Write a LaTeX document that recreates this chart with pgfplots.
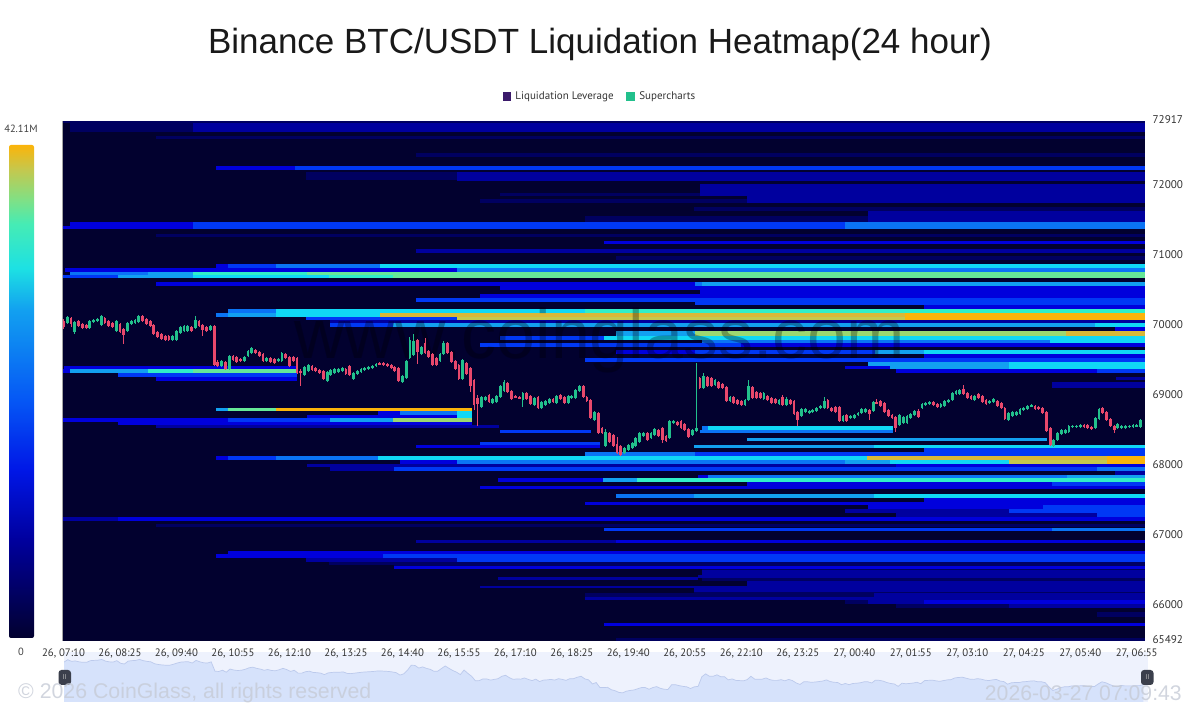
\documentclass[border=0pt]{standalone}
\usepackage{fontspec}
\setmainfont{Liberation Sans}
\newfontfamily\din{PT Sans}
\usepackage{pgfplots}
\usepackage{pgfplotstable}
\pgfplotsset{compat=1.18}
\definecolor{c0}{HTML}{02012F}
\definecolor{c1}{HTML}{000060}
\definecolor{c2}{HTML}{00009E}
\definecolor{c3}{HTML}{0000DC}
\definecolor{c4}{HTML}{0038F5}
\definecolor{c5}{HTML}{0A74F5}
\definecolor{c6}{HTML}{12A0F0}
\definecolor{c7}{HTML}{10D8F5}
\definecolor{c8}{HTML}{30EEC8}
\definecolor{c9}{HTML}{66E898}
\definecolor{cg}{HTML}{9CD870}
\definecolor{cx}{HTML}{C4C84E}
\definecolor{co}{HTML}{D8B838}
\definecolor{cy}{HTML}{FBB40A}
\definecolor{up}{HTML}{22C08C}
\definecolor{dn}{HTML}{E8486C}
\definecolor{navbg}{HTML}{EEF2FD}
\definecolor{navfill}{HTML}{D6E2FB}
\definecolor{navline}{HTML}{BCCAEC}
\definecolor{handle}{HTML}{3B3F4C}
\definecolor{foot}{HTML}{C6CBD6}
\definecolor{legv}{HTML}{3B1A6B}
\pgfdeclareverticalshading{heat}{100bp}{
 color(0bp)=(c0); color(25bp)=(c0); color(35bp)=(c2); color(42bp)=(c3!60!c4); color(49bp)=(c4!50!c5);
 color(58.25bp)=(c6); color(62.5bp)=(c7!60!c8); color(67bp)=(c8!60!c9); color(69.5bp)=(c9!50!cg);
 color(72.5bp)=(cx); color(75bp)=(cy); color(100bp)=(cy)}
\newcommand\B[5]{\addplot[fill=#5,draw=none,forget plot] coordinates {(#1,#3)(#2,#3)(#2,#4)(#1,#4)};}
\pgfplotstableread{
t o h l c
0 70061 70090 69947 69976
5 70033 70133 70019 70118
10 70104 70118 69976 70019
15 69904 70061 69876 70047
20 70061 70076 69976 69990
25 70019 70033 69947 69961
30 70004 70019 69947 69961
35 69961 70076 69947 70061
40 70047 70090 70033 70076
45 70061 70104 70047 70090
50 70004 70147 69990 70133
55 70104 70118 70019 70033
60 70061 70076 69976 69990
65 70033 70047 69961 69976
70 69919 70076 69904 70061
75 70019 70033 69890 69904
80 69947 69961 69733 69861
85 69919 70047 69904 70033
90 70019 70076 70004 70061
95 70033 70090 70019 70076
100 70047 70147 70033 70133
105 70133 70147 70047 70061
110 70090 70104 70004 70019
115 70061 70076 69976 69990
120 70004 70019 69861 69876
125 69904 69919 69819 69833
130 69876 69890 69790 69804
135 69847 69861 69776 69790
140 69847 69861 69776 69790
145 69790 69861 69776 69847
150 69790 69933 69776 69919
155 69890 69990 69876 69976
160 69919 70004 69904 69990
165 69919 70004 69904 69990
170 69976 69990 69904 69919
175 69961 70133 69947 70076
180 70061 70076 69976 69990
185 70004 70019 69847 69933
190 69976 69990 69904 69919
195 69933 70004 69919 69990
200 69990 70004 69419 69433
205 69476 69504 69404 69419
210 69419 69504 69404 69490
215 69476 69490 69362 69376
220 69376 69576 69362 69562
225 69562 69576 69490 69504
230 69547 69562 69462 69476
235 69519 69533 69476 69490
240 69490 69562 69476 69547
245 69562 69647 69547 69633
250 69604 69690 69590 69676
255 69647 69662 69590 69604
260 69619 69633 69547 69562
265 69590 69604 69476 69490
270 69490 69547 69476 69533
275 69533 69547 69462 69476
280 69519 69533 69447 69462
285 69490 69533 69476 69519
290 69490 69619 69476 69604
295 69590 69604 69519 69533
300 69547 69562 69404 69419
305 69547 69562 69476 69490
310 69533 69547 69305 69319
315 69347 69376 69133 69319
320 69290 69419 69276 69404
325 69347 69447 69333 69433
330 69419 69433 69347 69362
335 69390 69404 69333 69347
340 69362 69376 69305 69319
345 69347 69362 69219 69233
350 69205 69347 69190 69333
355 69290 69376 69276 69362
360 69319 69390 69305 69376
365 69333 69390 69319 69376
370 69347 69404 69333 69390
375 69376 69390 69290 69305
380 69419 69433 69276 69290
385 69233 69333 69219 69319
390 69305 69362 69290 69347
395 69333 69390 69319 69376
400 69362 69404 69347 69390
405 69376 69419 69362 69404
410 69390 69433 69376 69419
415 69419 69462 69404 69447
420 69462 69476 69433 69447
425 69462 69476 69419 69433
430 69447 69462 69404 69419
435 69433 69447 69376 69390
440 69404 69419 69333 69347
445 69390 69404 69190 69205
450 69190 69290 69176 69276
455 69248 69504 69233 69490
460 69533 69833 69519 69790
465 69576 69876 69562 69776
470 69790 69804 69447 69619
475 69590 69704 69576 69690
480 69747 69819 69590 69604
485 69633 69647 69533 69547
490 69590 69604 69419 69433
495 69533 69547 69419 69433
500 69490 69604 69476 69590
505 69590 69776 69576 69747
510 69747 69761 69590 69604
515 69619 69633 69462 69476
520 69490 69504 69362 69376
525 69433 69447 69219 69233
530 69233 69519 69219 69504
535 69462 69476 69290 69305
540 69390 69404 69048 69133
545 69219 69233 68790 68862
550 68962 69005 68562 68876
555 68833 68990 68819 68976
560 68933 68990 68919 68976
565 69005 69019 68890 68905
570 68890 68962 68876 68948
575 68905 69005 68890 68990
580 68976 69148 68962 69133
585 69062 69219 69048 69190
590 69176 69190 69033 69048
595 69062 69076 68933 68948
600 68990 69005 68962 68976
605 68976 68990 68948 68962
610 68933 69048 68833 69033
615 69033 69048 68933 68948
620 68990 69005 68862 68876
625 68862 68976 68848 68962
630 68976 68990 68805 68819
635 68819 68919 68805 68905
640 68862 68933 68848 68919
645 68890 68962 68876 68948
650 68948 68962 68890 68905
655 68890 69005 68876 68990
660 69005 69019 68933 68948
665 68976 68990 68876 68890
670 68890 69005 68876 68990
675 68962 69005 68948 68990
680 68962 69090 68948 69076
685 69062 69148 69048 69133
690 69133 69148 68962 68976
695 68976 68990 68905 68919
700 68933 68948 68662 68676
705 68648 68776 68633 68762
710 68748 68762 68448 68462
715 68533 68548 68448 68462
720 68276 68519 68262 68476
725 68462 68476 68319 68334
730 68434 68448 68262 68276
735 68305 68405 68162 68176
740 68276 68290 68134 68148
745 68176 68262 68162 68248
750 68219 68305 68205 68291
755 68248 68334 68234 68319
760 68276 68405 68262 68391
765 68334 68476 68319 68462
770 68419 68476 68405 68462
775 68462 68476 68348 68362
780 68391 68476 68376 68462
785 68434 68533 68419 68519
790 68505 68519 68405 68419
795 68533 68548 68319 68362
800 68419 68434 68334 68348
805 68391 68648 68376 68633
810 68605 68648 68590 68633
815 68619 68633 68562 68576
820 68633 68648 68519 68533
825 68590 68605 68491 68505
830 68519 68533 68391 68405
835 68434 68519 68419 68505
840 68491 69462 68476 68533
845 69248 69262 69090 69105
850 69105 69319 69090 69276
855 69262 69276 69119 69133
860 69248 69262 69119 69133
865 69148 69233 69133 69219
870 69190 69205 69090 69105
875 69162 69176 69090 69105
880 69119 69133 68905 68919
885 68919 68990 68905 68976
890 68976 68990 68876 68890
895 68933 68948 68862 68876
900 68919 68933 68848 68862
905 68862 68948 68848 68933
910 68933 69219 68919 69133
915 69119 69133 68948 68962
920 69048 69062 68948 68962
925 69033 69048 68948 68962
930 68948 69048 68933 69033
935 68990 69005 68919 68933
940 68962 68976 68876 68890
945 68948 68962 68876 68890
950 68876 68948 68862 68933
955 68976 69005 68848 68862
960 68862 68976 68848 68948
965 68933 68948 68862 68876
970 68919 68933 68718 68733
975 68762 68776 68562 68648
980 68705 68819 68690 68805
985 68762 68819 68748 68805
990 68748 68790 68733 68776
995 68762 68805 68748 68790
1000 68776 68833 68762 68819
1005 68819 68862 68805 68848
1010 68819 68976 68805 68919
1015 68933 68948 68805 68819
1020 68819 68833 68762 68776
1025 68833 68848 68748 68762
1030 68833 68848 68619 68633
1035 68633 68719 68619 68705
1040 68719 68733 68619 68633
1045 68676 68719 68662 68705
1050 68676 68733 68662 68719
1055 68719 68762 68705 68748
1060 68748 68819 68733 68805
1065 68762 68819 68748 68805
1070 68790 68805 68648 68733
1075 68776 68919 68762 68905
1080 68905 68948 68876 68890
1085 68919 68933 68833 68848
1090 68890 68905 68748 68762
1095 68790 68805 68690 68705
1100 68719 68733 68662 68676
1105 68690 68705 68476 68533
1110 68576 68733 68562 68719
1115 68605 68705 68590 68690
1120 68605 68719 68590 68705
1125 68676 68748 68662 68733
1130 68719 68790 68705 68776
1135 68776 68805 68676 68690
1140 68819 68890 68805 68876
1145 68862 68905 68848 68890
1150 68876 68919 68862 68905
1155 68905 68919 68848 68862
1160 68876 68890 68819 68833
1165 68833 68890 68819 68876
1170 68848 68933 68833 68919
1175 68905 68948 68890 68933
1180 68933 69048 68919 69033
1185 69019 69076 69005 69062
1190 69019 69090 69005 69076
1195 69090 69148 69005 69019
1200 69033 69048 68948 68962
1205 68990 69005 68933 68948
1210 68933 69005 68919 68990
1215 69019 69033 68948 68962
1220 68990 69005 68890 68905
1225 68933 68948 68862 68876
1230 68890 68933 68876 68919
1235 68905 68962 68890 68948
1240 68919 68933 68833 68848
1245 68890 68905 68805 68819
1250 68819 68833 68648 68662
1255 68648 68762 68633 68748
1260 68705 68776 68690 68762
1265 68719 68776 68705 68762
1270 68733 68819 68719 68805
1275 68790 68833 68776 68819
1280 68805 68862 68790 68848
1285 68848 68876 68833 68862
1290 68848 68862 68790 68805
1295 68833 68848 68790 68805
1300 68819 68833 68733 68748
1305 68762 68776 68476 68491
1310 68533 68548 68276 68291
1315 68276 68376 68262 68362
1320 68362 68476 68348 68462
1325 68448 68519 68434 68505
1330 68462 68519 68448 68505
1335 68476 68576 68462 68562
1340 68548 68576 68533 68562
1345 68548 68576 68533 68562
1350 68548 68590 68533 68576
1355 68576 68590 68533 68548
1360 68576 68590 68519 68533
1365 68548 68562 68505 68519
1370 68533 68690 68519 68676
1375 68662 68819 68648 68805
1380 68819 68833 68733 68748
1385 68762 68776 68633 68648
1390 68662 68676 68548 68562
1395 68562 68576 68462 68505
1400 68533 68605 68519 68590
1405 68533 68576 68519 68562
1410 68533 68576 68519 68562
1415 68548 68576 68533 68562
1420 68548 68590 68533 68576
1425 68562 68590 68548 68576
1430 68548 68662 68533 68648
}\candles
\begin{document}
\begin{tikzpicture}
\path[use as bounding box] (0pt,0pt) rectangle (1200pt,709pt);
\node[font=\fontsize{35}{40}\selectfont,text=black!90] at (600pt,665pt) {Binance BTC/USDT Liquidation Heatmap(24 hour)};
% colour scale
\shade[shading=heat,rounded corners=2pt] (9pt,71pt) rectangle (34pt,564pt);
\node[font=\din\fontsize{10.5}{12}\selectfont,text=black!75] at (21pt,580pt) {42.11M};
\node[font=\din\fontsize{10.5}{12}\selectfont,text=black!75] at (21pt,57pt) {0};
% navigator
\begin{axis}[at={(64pt,7pt)},anchor=south west,scale only axis,width=1084pt,height=50pt,
 xmin=0,xmax=1436,ymin=67605,ymax=70575,hide axis,clip=true,
 axis background/.style={fill=navbg}]
\fill[fill=navbg] (rel axis cs:0,0) rectangle (rel axis cs:1,1);
\addplot[draw=none,fill=navfill,forget plot] table[x=t,y=c] {\candles} \closedcycle;
\addplot[draw=navline,line width=.7pt,forget plot] table[x=t,y=c] {\candles};
\end{axis}
% main heat map
\begin{axis}[at={(62pt,68pt)},anchor=south west,scale only axis,width=1083pt,height=520pt,
 xmin=-2,xmax=1436,ymin=65492,ymax=72917,scaled y ticks=false,scaled x ticks=false,
 axis background/.style={fill=c0},
 axis line style={draw=none},tick style={draw=none},
 xtick={0,75,...,1425},
 xticklabels={{26, 07:10},{26, 08:25},{26, 09:40},{26, 10:55},{26, 12:10},{26, 13:25},{26, 14:40},{26, 15:55},{26, 17:10},{26, 18:25},{26, 19:40},{26, 20:55},{26, 22:10},{26, 23:25},{27, 00:40},{27, 01:55},{27, 03:10},{27, 04:25},{27, 05:40},{27, 06:55}},
 x tick label style={font=\din\fontsize{10.8}{12}\selectfont,text=black!80,yshift=-4pt},
 ytick={65492,66000,67000,68000,69000,70000,71000,72000,72917},
 yticklabels={65492,66000,67000,68000,69000,70000,71000,72000,72917},
 yticklabel pos=right,
 y tick label style={font=\din\fontsize{11.2}{12}\selectfont,text=black!80,xshift=4pt,yshift=1pt},
 legend style={at={(0.4968,1.0475)},anchor=center,draw=none,fill=none,legend columns=2,
   font=\din\fontsize{11}{12}\selectfont,text=black!80,
   /tikz/every odd column/.append style={column sep=3.5pt},
   /tikz/every even column/.append style={column sep=11pt}},
 legend cell align=left]
\addlegendimage{only marks,mark=square*,mark size=3.6pt,color=legv}
\addlegendentry{Liquidation Leverage}
\addlegendimage{only marks,mark=square*,mark size=3.6pt,color=up}
\addlegendentry{Supercharts}
% ---- top of the range
\B{-2}{1436}{72889}{72917}{c1}
\B{9}{172}{72760}{72889}{c1}\B{172}{1436}{72760}{72889}{c2}
\B{123}{1436}{72660}{72703}{c1}
\B{468}{1436}{72403}{72460}{c1}
\B{202}{308}{72217}{72274}{c3}\B{308}{1436}{72217}{72274}{c4}
\B{322}{522}{72075}{72189}{c1}\B{522}{1436}{72061}{72189}{c2}
\B{845}{1436}{71904}{72018}{c2}
\B{579}{845}{71846}{71889}{c1}\B{845}{908}{71846}{71904}{c2}
\B{908}{1436}{71746}{71904}{c2}
\B{553}{908}{71746}{71803}{c1}
\B{837}{1436}{71632}{71689}{c1}
\B{692}{1436}{71475}{71561}{c1}\B{1068}{1436}{71475}{71632}{c2}
\B{-2}{9}{71375}{71418}{c3}
\B{9}{172}{71375}{71475}{c3}\B{172}{1037}{71375}{71475}{c4}\B{1037}{1436}{71375}{71475}{c5}
\B{123}{1436}{71261}{71304}{c1}
\B{717}{1436}{71161}{71204}{c3}
\B{468}{1436}{71032}{71090}{c2}
\B{733}{1436}{70932}{70990}{c1}
% ---- 70800 cluster
\B{202}{218}{70818}{70875}{c3}\B{218}{282}{70818}{70875}{c4}\B{282}{420}{70818}{70875}{c5}\B{420}{1436}{70818}{70875}{c7}
\B{2}{522}{70761}{70818}{c3}\B{522}{1436}{70761}{70818}{c5}
\B{9}{112}{70718}{70761}{c5}\B{112}{172}{70718}{70761}{c6}\B{172}{323}{70718}{70761}{c8}\B{323}{1436}{70718}{70761}{c9}
\B{-2}{72}{70675}{70718}{c4}\B{72}{172}{70675}{70718}{c6}\B{172}{352}{70675}{70718}{c7}\B{352}{437}{70675}{70718}{c8}\B{437}{1436}{70675}{70718}{c9}
\B{123}{838}{70561}{70618}{c3}\B{838}{848}{70561}{70618}{c5}\B{848}{1436}{70561}{70618}{c6}
\B{579}{1436}{70504}{70561}{c3}
\B{908}{1436}{70447}{70504}{c3}\B{845}{908}{70447}{70504}{c3}
\B{553}{845}{70390}{70447}{c3}\B{845}{1436}{70390}{70447}{c3}
\B{468}{838}{70333}{70390}{c4}\B{838}{1436}{70290}{70390}{c4}
\B{1142}{1436}{70233}{70290}{c3}
% ---- 70100 cluster
\B{218}{282}{70175}{70233}{c5}\B{282}{692}{70175}{70233}{c7}\B{692}{1436}{70175}{70233}{c8}
\B{202}{218}{70118}{70175}{c5}\B{218}{282}{70118}{70175}{c6}\B{282}{420}{70118}{70175}{c7}\B{420}{1117}{70118}{70175}{co}\B{1117}{1436}{70118}{70175}{cy}
\B{322}{522}{70076}{70118}{c4}\B{522}{1117}{70076}{70118}{cx}\B{1117}{1436}{70076}{70118}{cy}
\B{354}{1436}{70033}{70076}{c2}
\B{354}{437}{69976}{70033}{c4}\B{437}{1369}{69976}{70033}{c6}\B{1369}{1436}{69976}{70033}{c7}
\B{1396}{1436}{69919}{69976}{c3}
\B{733}{838}{69847}{69919}{c6}\B{838}{1331}{69847}{69919}{cg}\B{1331}{1436}{69847}{69919}{co}
\B{579}{717}{69790}{69847}{c4}\B{717}{1436}{69790}{69847}{c7}
\B{848}{1310}{69747}{69790}{c5}\B{1310}{1436}{69747}{69790}{c7}
\B{553}{900}{69690}{69747}{c4}\B{900}{1436}{69690}{69747}{c3}
\B{733}{838}{69590}{69647}{c3}\B{838}{1077}{69590}{69647}{c4}\B{1077}{1142}{69590}{69647}{c6}\B{1142}{1436}{69590}{69647}{c7}
\B{1142}{1436}{69533}{69590}{c3}
\B{692}{1436}{69476}{69533}{c4}
\B{1068}{1256}{69419}{69476}{c6}\B{1256}{1436}{69419}{69476}{c7}
\B{1037}{1097}{69376}{69419}{c3}\B{1097}{1256}{69376}{69419}{c6}\B{1256}{1436}{69376}{69419}{c7}
\B{1106}{1372}{69319}{69376}{c3}\B{1372}{1436}{69319}{69376}{c4}
\B{1397}{1436}{69219}{69262}{c2}
\B{1312}{1436}{69105}{69190}{c2}
% ---- left, 69350
\B{0}{310}{69376}{69419}{c3}
\B{-2}{9}{69319}{69376}{c3}\B{9}{112}{69319}{69376}{c6}\B{112}{172}{69319}{69376}{c8}\B{172}{310}{69319}{69376}{c9}
\B{72}{310}{69262}{69319}{c4}
\B{123}{310}{69205}{69262}{c3}
% ---- 68700 cluster
\B{202}{218}{68776}{68819}{c6}\B{218}{282}{68776}{68819}{c9}\B{282}{542}{68776}{68819}{cy}
\B{417}{447}{68719}{68776}{c3}\B{447}{522}{68719}{68776}{c5}\B{522}{542}{68719}{68776}{c7}
\B{323}{522}{68676}{68719}{c3}\B{522}{542}{68676}{68719}{c7}
\B{-2}{218}{68619}{68676}{c3}\B{218}{354}{68619}{68676}{c4}\B{354}{437}{68619}{68676}{c6}\B{437}{542}{68619}{68676}{cg}
\B{72}{542}{68576}{68619}{c3}
\B{123}{578}{68533}{68576}{c2}
\B{579}{700}{68462}{68505}{c4}
\B{848}{856}{68505}{68563}{c5}\B{856}{1101}{68505}{68563}{c7}
\B{845}{1101}{68462}{68505}{c5}
\B{908}{1306}{68347}{68390}{c6}
\B{553}{712}{68290}{68333}{c4}
\B{468}{712}{68248}{68290}{c3}
\B{837}{1076}{68248}{68290}{c6}\B{1076}{1436}{68248}{68290}{c7}
\B{1142}{1436}{68190}{68248}{c4}
\B{692}{838}{68133}{68190}{c5}\B{838}{1436}{68133}{68190}{c4}
\B{202}{218}{68076}{68133}{c3}\B{218}{282}{68076}{68133}{c4}\B{282}{417}{68076}{68133}{c5}\B{417}{1067}{68076}{68133}{c7}\B{1067}{1385}{68076}{68133}{co}\B{1385}{1436}{68076}{68133}{cy}
\B{447}{522}{68019}{68076}{c3}\B{522}{1037}{68019}{68076}{c5}\B{1037}{1097}{68019}{68076}{c6}\B{1097}{1256}{68019}{68076}{c7}\B{1256}{1385}{68019}{68076}{cx}\B{1385}{1436}{68019}{68076}{cy}
\B{323}{1106}{67976}{68019}{c2}\B{1106}{1436}{67976}{68019}{c3}
\B{354}{439}{67919}{67976}{c2}\B{439}{1372}{67919}{67976}{c4}\B{1372}{1436}{67919}{67976}{c5}
\B{1396}{1436}{67862}{67919}{c2}
\B{842}{856}{67819}{67862}{c3}\B{856}{1332}{67819}{67862}{c5}\B{1332}{1436}{67819}{67862}{c6}
\B{577}{716}{67762}{67819}{c3}\B{716}{761}{67762}{67819}{c6}\B{761}{1436}{67762}{67819}{c8}
\B{908}{1312}{67705}{67762}{c3}\B{1312}{1436}{67705}{67762}{c4}
\B{553}{1436}{67662}{67705}{c3}
\B{733}{837}{67533}{67590}{c5}\B{837}{1076}{67533}{67590}{c6}\B{1076}{1436}{67533}{67590}{c7}
\B{1142}{1436}{67476}{67533}{c3}
\B{692}{1436}{67433}{67476}{c3}
\B{1068}{1300}{67376}{67433}{c3}\B{1300}{1436}{67376}{67433}{c4}
\B{1037}{1256}{67319}{67376}{c2}\B{1256}{1436}{67319}{67376}{c4}
\B{1106}{1372}{67262}{67319}{c2}\B{1372}{1436}{67262}{67319}{c4}
\B{-2}{72}{67204}{67262}{c2}\B{72}{1436}{67204}{67262}{c3}
\B{123}{1436}{67119}{67162}{c1}
\B{717}{1312}{67062}{67105}{c4}\B{1312}{1436}{67062}{67105}{c5}
\B{468}{733}{66890}{66933}{c2}\B{733}{1436}{66890}{66933}{c3}
\B{218}{1436}{66733}{66776}{c3}
\B{202}{424}{66676}{66733}{c3}\B{424}{1436}{66676}{66733}{c4}
\B{322}{522}{66619}{66676}{c2}\B{522}{1436}{66619}{66676}{c4}
\B{352}{1436}{66576}{66619}{c1}
\B{439}{1436}{66562}{66576}{c1}
\B{439}{1436}{66519}{66562}{c3}
\B{848}{1436}{66505}{66519}{c1}
\B{848}{1436}{66433}{66505}{c2}
\B{842}{1436}{66390}{66433}{c2}
\B{848}{1436}{66348}{66390}{c1}
\B{577}{842}{66362}{66405}{c2}
\B{908}{1436}{66277}{66348}{c2}
\B{553}{1436}{66248}{66277}{c2}
\B{837}{1436}{66191}{66248}{c2}
\B{837}{1436}{66177}{66191}{c1}
\B{692}{1076}{66120}{66177}{c1}\B{1076}{1436}{66120}{66177}{c2}
\B{692}{1436}{66077}{66120}{c2}
\B{1037}{1068}{66020}{66077}{c1}\B{1068}{1142}{66020}{66077}{c2}\B{1142}{1436}{66020}{66077}{c3}
\B{1106}{1256}{65962}{66020}{c1}\B{1256}{1436}{65962}{66020}{c2}
\B{1372}{1436}{65834}{65905}{c1}
\B{717}{1436}{65705}{65748}{c3}
\B{733}{1436}{65492}{65534}{c1}
% watermark
\node[font=\fontsize{70}{74}\selectfont,text=black,opacity=.3] at (axis cs:712,69790) {www.coinglass.com};
% candles: wicks
\addplot[draw=none,mark=none,forget plot,error bars/.cd,y dir=both,y explicit,error mark=none,
  error bar style={draw=up,line width=.9pt}]
  table[x=t,y expr={\thisrow{c}>=\thisrow{o} ? (\thisrow{h}+\thisrow{l})/2 : nan},y error expr={(\thisrow{h}-\thisrow{l})/2}] {\candles};
\addplot[draw=none,mark=none,forget plot,error bars/.cd,y dir=both,y explicit,error mark=none,
  error bar style={draw=dn,line width=.9pt}]
  table[x=t,y expr={\thisrow{c}<\thisrow{o} ? (\thisrow{h}+\thisrow{l})/2 : nan},y error expr={(\thisrow{h}-\thisrow{l})/2}] {\candles};
% candles: bodies
\addplot[draw=none,mark=none,forget plot,error bars/.cd,y dir=both,y explicit,error mark=none,
  error bar style={draw=up,line width=2.8pt}]
  table[x=t,y expr={\thisrow{c}>=\thisrow{o} ? (\thisrow{o}+\thisrow{c})/2 : nan},y error expr={abs(\thisrow{c}-\thisrow{o})/2}] {\candles};
\addplot[draw=none,mark=none,forget plot,error bars/.cd,y dir=both,y explicit,error mark=none,
  error bar style={draw=dn,line width=2.8pt}]
  table[x=t,y expr={\thisrow{c}<\thisrow{o} ? (\thisrow{o}+\thisrow{c})/2 : nan},y error expr={abs(\thisrow{c}-\thisrow{o})/2}] {\candles};
\draw[black!35,line width=.6pt] (rel axis cs:0,0) -- (rel axis cs:0,1);
\end{axis}
% navigator handles and footer
\fill[rounded corners=3pt,fill=handle] (58.5pt,24pt) rectangle (71pt,39pt);
\node[font=\din\fontsize{7}{8}\selectfont,text=black!25] at (64.7pt,31.5pt) {II};
\fill[rounded corners=3pt,fill=handle] (1141pt,24pt) rectangle (1153.5pt,39pt);
\node[font=\din\fontsize{7}{8}\selectfont,text=black!25] at (1147.3pt,31.5pt) {II};
\node[anchor=west,font=\fontsize{21.3}{24}\selectfont,text=foot,opacity=.8,inner sep=0pt] at (18pt,16pt) {© 2026 CoinGlass, all rights reserved};
\node[anchor=east,font=\fontsize{21.2}{24}\selectfont,text=foot,opacity=.8,inner sep=0pt] at (1182pt,16pt) {2026-03-27 07:09:43};
\end{tikzpicture}
\end{document}
